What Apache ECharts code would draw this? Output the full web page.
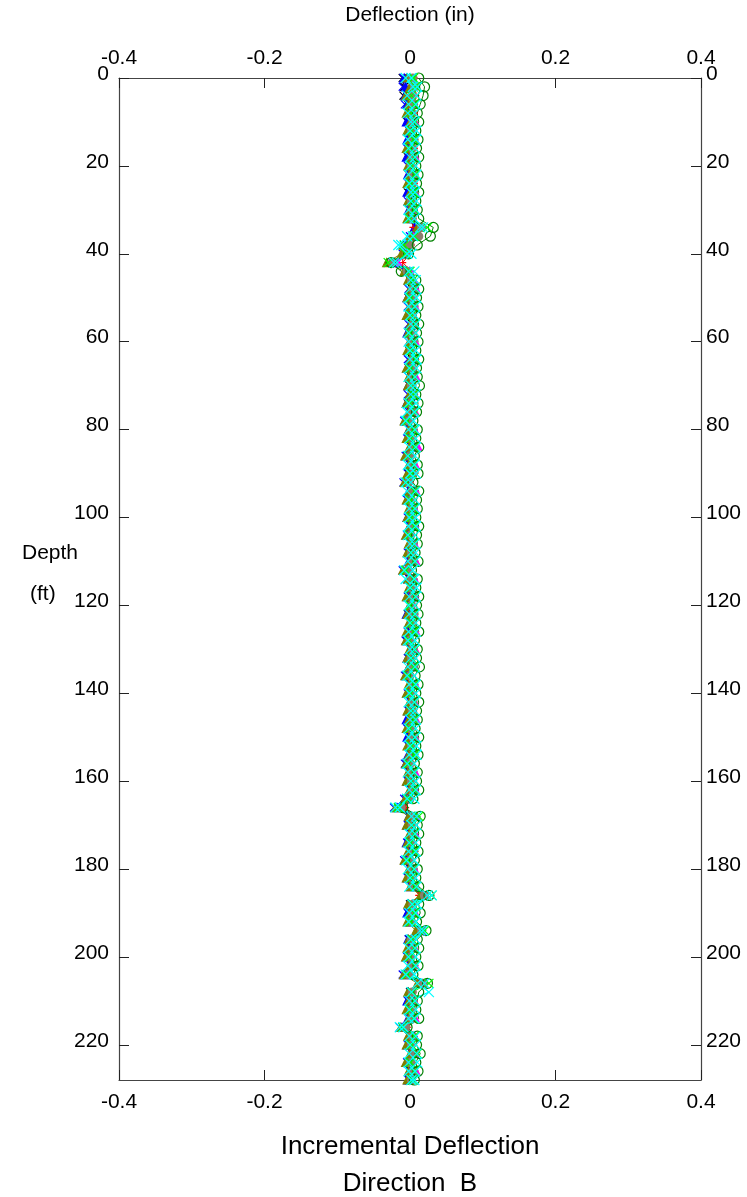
<!DOCTYPE html>
<html><head><meta charset="utf-8">
<script src="https://cdn.jsdelivr.net/npm/echarts@6/dist/echarts.min.js"></script>
<style>html,body{margin:0;padding:0;background:#fff}#c{width:747px;height:1197px}</style>
</head><body><div id="c"></div>
<script>
const depths = [0,2,4,6,8,10,12,14,16,18,20,22,24,26,28,30,32,34,36,38,40,42,44,46,48,50,52,54,56,58,60,62,64,66,68,70,72,74,76,78,80,82,84,86,88,90,92,94,96,98,100,102,104,106,108,110,112,114,116,118,120,122,124,126,128,130,132,134,136,138,140,142,144,146,148,150,152,154,156,158,160,162,164,166,168,170,172,174,176,178,180,182,184,186,188,190,192,194,196,198,200,202,204,206,208,210,212,214,216,218,220,222,224,226,228];
const xTicks = ['-0.4','-0.2','0','0.2','0.4'];
const yTicks = [0,20,40,60,80,100,120,140,160,180,200,220];

const readBlack = [-0.010,-0.008,-0.009,-0.003,-0.001,-0.004,0.002,-0.002,0.001,-0.003,
0.000,-0.002,0.002,-0.003,0.001,-0.001,0.003,0.008,0.004,-0.004,
-0.006,-0.020,-0.002,0.000,0.003,-0.002,0.002,-0.001,0.003,-0.002,
0.002,-0.001,0.003,-0.002,0.002,-0.001,0.003,-0.003,0.002,-0.006,
0.001,-0.002,0.002,-0.004,0.001,-0.002,-0.006,0.002,-0.003,0.001,
-0.002,0.002,-0.003,0.001,-0.001,0.002,-0.008,0.000,0.002,-0.002,
0.001,-0.003,0.000,0.002,-0.004,0.001,-0.002,0.002,-0.005,0.001,
-0.002,0.002,-0.001,0.001,-0.003,0.002,-0.001,0.001,-0.005,0.000,
-0.002,0.002,-0.005,-0.016,0.000,-0.002,0.002,-0.003,0.001,-0.005,
0.001,-0.002,0.003,0.018,0.000,-0.002,0.001,0.014,-0.001,0.001,
-0.003,0.002,-0.006,0.016,0.000,-0.002,0.002,-0.001,-0.010,0.001,
-0.002,0.004,-0.003,0.001,-0.001];
const readBlue = [-0.008,-0.006,-0.007,-0.004,-0.002,-0.005,0.001,-0.004,0.000,-0.005,
-0.001,-0.003,0.001,-0.004,0.000,-0.002,0.002,0.006,0.002,-0.006,
-0.008,-0.022,-0.004,-0.002,0.000,-0.004,0.001,-0.003,0.000,-0.004,
0.001,-0.003,0.000,-0.004,0.002,-0.003,0.000,-0.005,0.001,-0.007,
-0.002,-0.004,0.000,-0.006,-0.001,-0.003,-0.007,-0.002,-0.004,0.000,
-0.004,-0.001,-0.005,0.000,-0.003,-0.002,-0.009,-0.003,-0.001,-0.004,
0.000,-0.005,-0.001,-0.003,-0.005,0.000,-0.004,-0.002,-0.006,-0.001,
-0.004,0.000,-0.003,-0.005,-0.001,-0.004,0.000,-0.003,-0.006,-0.002,
-0.004,0.000,-0.006,-0.018,-0.002,-0.004,0.000,-0.005,-0.002,-0.007,
-0.001,-0.004,0.001,0.016,-0.002,-0.004,0.000,0.012,-0.003,-0.001,
-0.005,0.001,-0.008,0.014,-0.002,-0.004,0.000,-0.003,-0.011,-0.002,
-0.004,0.002,-0.005,-0.001,-0.003];
const readNavy = [-0.009,-0.010,-0.004,-0.007,0.000,-0.003,-0.001,0.002,-0.004,0.001,
-0.003,0.002,-0.002,0.001,-0.003,0.002,-0.001,0.010,0.000,-0.008,
-0.010,-0.024,-0.006,0.001,-0.002,0.002,-0.003,0.001,-0.002,0.002,
-0.002,0.001,-0.003,0.002,-0.002,0.001,-0.003,0.002,-0.001,-0.008,
0.000,-0.004,0.002,-0.006,0.000,-0.003,-0.009,0.001,-0.004,0.002,
-0.003,0.000,-0.004,0.002,-0.003,0.000,-0.010,-0.001,0.001,-0.003,
0.002,-0.002,0.001,-0.003,-0.006,0.002,-0.003,0.001,-0.007,0.000,
-0.003,0.001,-0.002,0.002,-0.004,0.001,-0.002,0.002,-0.007,-0.001,
-0.003,0.001,-0.008,-0.022,0.001,-0.003,0.001,-0.004,0.000,-0.008,
0.000,-0.003,0.002,0.020,0.001,-0.003,0.000,0.016,-0.002,0.000,
-0.004,0.001,-0.010,0.018,0.001,-0.003,0.001,-0.002,-0.014,0.000,
-0.003,0.003,-0.004,0.000,-0.002];
const readRed = [0.006,0.004,0.008,0.003,0.006,0.002,0.005,0.003,0.006,0.002,
0.005,0.003,0.006,0.002,0.005,0.003,0.004,0.004,0.003,0.002,
0.000,-0.010,0.002,0.004,0.006,0.003,0.005,0.004,0.006,0.002,
0.005,0.003,0.006,0.002,0.005,0.004,0.006,0.002,0.004,0.000,
0.005,0.003,0.006,0.001,0.004,0.005,0.000,0.006,0.003,0.004,
0.003,0.006,0.002,0.005,0.003,0.004,-0.001,0.005,0.003,0.006,
0.002,0.005,0.004,0.006,0.001,0.005,0.003,0.006,0.001,0.005,
0.003,0.005,0.004,0.006,0.002,0.005,0.003,0.006,0.001,0.004,
0.003,0.006,0.001,-0.006,0.007,0.004,0.005,0.003,0.006,0.001,
0.004,0.003,0.006,0.012,0.004,0.005,0.002,0.010,0.003,0.005,
0.002,0.006,0.000,0.012,0.004,0.005,0.003,0.004,-0.003,0.005,
0.003,0.006,0.002,0.004,0.003];
const readMagenta = [0.003,0.007,0.001,0.006,0.002,0.008,0.001,0.007,0.002,0.008,
0.001,0.007,0.002,0.008,0.001,0.006,0.003,0.012,0.005,-0.004,
-0.004,-0.016,0.001,0.006,0.009,0.002,0.008,0.001,0.007,0.002,
0.008,0.001,0.007,0.003,0.009,0.001,0.007,0.002,0.008,-0.002,
0.007,0.002,0.012,0.000,0.008,0.002,-0.003,0.009,0.002,0.007,
0.001,0.008,0.000,0.007,0.002,0.009,-0.004,0.007,0.002,0.008,
0.001,0.007,0.002,0.009,0.000,0.008,0.002,0.007,-0.001,0.008,
0.002,0.007,0.001,0.009,0.001,0.008,0.002,0.007,0.000,0.008,
0.002,0.008,0.000,-0.012,0.010,0.002,0.008,0.001,0.007,-0.002,
0.007,0.001,0.008,0.020,0.003,0.008,0.001,0.016,0.002,0.007,
0.001,0.008,-0.003,0.018,0.002,0.007,0.001,0.008,-0.007,0.007,
0.001,0.008,0.002,0.009,0.002];
const readOlive = [-0.004,0.000,-0.006,-0.002,-0.005,0.000,-0.004,-0.001,-0.005,0.000,
-0.003,-0.001,-0.004,0.000,-0.003,-0.001,-0.004,0.010,0.000,-0.010,
-0.012,-0.032,-0.008,-0.003,0.000,-0.004,-0.001,-0.005,0.000,-0.003,
-0.001,-0.004,0.000,-0.005,-0.002,-0.003,-0.001,-0.005,-0.002,-0.008,
-0.002,-0.005,-0.001,-0.007,-0.002,-0.004,-0.008,-0.001,-0.005,-0.002,
-0.004,-0.001,-0.006,-0.002,-0.004,-0.001,-0.010,-0.003,-0.002,-0.005,
-0.001,-0.004,-0.002,-0.005,-0.006,-0.001,-0.004,-0.002,-0.007,-0.002,
-0.005,-0.001,-0.004,-0.002,-0.005,-0.001,-0.004,-0.002,-0.006,-0.003,
-0.005,-0.001,-0.007,-0.020,-0.002,-0.005,-0.001,-0.004,-0.003,-0.008,
-0.002,-0.005,0.000,0.014,-0.003,-0.001,-0.004,0.008,-0.002,-0.004,
-0.006,-0.001,-0.009,0.010,-0.003,-0.002,-0.005,-0.002,-0.013,-0.003,
-0.005,0.000,-0.006,-0.002,-0.004];
const readGray = [0.004,0.006,0.003,0.005,0.003,0.004,0.002,0.005,0.003,0.004,
0.002,0.004,0.003,0.005,0.002,0.004,0.003,0.016,0.012,0.000,
-0.004,-0.024,-0.004,0.002,0.004,0.002,0.004,0.003,0.005,0.002,
0.004,0.002,0.005,0.003,0.004,0.002,0.005,0.001,0.004,-0.002,
0.004,0.002,0.005,0.000,0.003,0.004,-0.002,0.004,0.002,0.003,
0.002,0.004,0.001,0.003,0.002,0.004,-0.003,0.003,0.002,0.004,
0.002,0.004,0.003,0.005,0.000,0.004,0.002,0.005,0.000,0.004,
0.002,0.004,0.003,0.005,0.001,0.004,0.002,0.005,0.000,0.003,
0.002,0.004,0.000,-0.012,0.006,0.003,0.004,0.002,0.005,0.000,
0.003,0.002,0.005,0.020,0.004,0.004,0.002,0.016,0.002,0.004,
0.001,0.004,-0.002,0.018,0.003,0.004,0.002,0.003,-0.006,0.003,
0.002,0.006,0.001,0.004,0.002];
const readDarkGreen = [0.012,0.020,0.018,0.014,0.010,0.012,0.008,0.011,0.009,0.012,
0.008,0.011,0.009,0.012,0.008,0.010,0.012,0.032,0.028,0.010,
-0.002,-0.026,-0.012,0.008,0.012,0.009,0.011,0.008,0.012,0.009,
0.011,0.008,0.012,0.009,0.010,0.013,0.008,0.011,0.009,0.004,
0.010,0.008,0.012,0.006,0.010,0.011,0.004,0.012,0.009,0.010,
0.008,0.012,0.009,0.010,0.007,0.011,0.002,0.010,0.008,0.012,
0.009,0.011,0.008,0.012,0.006,0.010,0.009,0.013,0.007,0.011,
0.008,0.012,0.009,0.010,0.007,0.012,0.008,0.011,0.006,0.010,
0.009,0.012,0.004,-0.010,0.014,0.010,0.012,0.008,0.011,0.006,
0.010,0.008,0.012,0.026,0.012,0.014,0.009,0.022,0.010,0.012,
0.008,0.011,0.004,0.024,0.012,0.010,0.008,0.012,-0.004,0.010,
0.009,0.014,0.008,0.011,0.006];
const readGreen = [0.005,0.008,0.002,0.006,0.001,0.007,0.002,0.005,0.000,0.006,
0.002,0.007,0.001,0.005,0.003,0.006,0.000,0.024,0.006,-0.008,
-0.006,-0.030,0.000,0.004,0.007,0.001,0.006,0.002,0.007,0.000,
0.005,0.002,0.007,0.001,0.006,0.002,0.005,0.000,0.007,-0.004,
0.005,0.001,0.006,-0.002,0.005,0.002,-0.005,0.006,0.001,0.005,
0.002,0.006,-0.001,0.005,0.002,0.006,-0.006,0.005,0.001,0.007,
0.000,0.006,0.002,0.005,-0.001,0.007,0.002,0.005,-0.002,0.006,
0.001,0.006,0.002,0.005,0.000,0.007,0.002,0.006,-0.002,0.005,
0.002,0.006,-0.002,-0.016,0.012,0.003,0.006,0.001,0.006,-0.003,
0.005,0.002,0.007,0.030,0.004,0.006,0.001,0.020,0.003,0.006,
0.000,0.007,-0.004,0.026,0.003,0.006,0.001,0.005,-0.010,0.006,
0.002,0.010,0.001,0.006,0.003];
const readCyan = [0.002,0.010,-0.004,0.008,-0.003,0.006,0.000,0.008,-0.002,0.007,
0.000,0.009,-0.001,0.007,0.001,0.008,-0.002,0.018,0.004,-0.016,
-0.004,-0.018,0.006,0.001,0.008,-0.001,0.007,0.000,0.008,-0.002,
0.006,0.000,0.009,-0.001,0.007,0.001,0.008,-0.002,0.006,-0.006,
0.007,-0.001,0.008,-0.003,0.006,0.000,-0.006,0.008,-0.002,0.007,
-0.001,0.008,-0.003,0.006,0.001,0.007,-0.008,0.006,0.000,0.008,
-0.002,0.007,0.000,0.008,-0.003,0.006,0.001,0.007,-0.004,0.008,
-0.001,0.006,0.001,0.008,-0.002,0.007,0.000,0.009,-0.004,0.006,
0.001,0.008,-0.004,-0.014,0.009,0.002,0.007,-0.001,0.008,-0.005,
0.006,0.000,0.009,0.024,0.003,0.008,-0.002,0.018,0.001,0.007,
-0.002,0.008,-0.006,0.020,0.002,0.007,-0.001,0.006,-0.009,0.008,
0.000,0.009,-0.002,0.007,0.002];
const readCyan2 = [-0.006,0.004,0.009,-0.002,0.006,0.001,0.009,-0.003,0.007,0.000,
0.008,-0.002,0.007,0.001,0.009,-0.002,0.006,0.014,-0.004,-0.012,
0.002,-0.022,-0.002,0.008,0.000,0.009,-0.002,0.007,0.001,0.008,
-0.002,0.008,0.000,0.009,-0.002,0.007,0.001,0.008,-0.004,0.005,
-0.002,0.008,-0.001,0.007,-0.003,0.008,0.001,-0.004,0.007,-0.001,
0.008,-0.002,0.007,0.000,0.008,-0.003,0.004,-0.006,0.009,-0.001,
0.007,-0.001,0.008,-0.002,0.007,0.000,0.008,-0.003,0.006,-0.001,
0.008,-0.002,0.007,0.000,0.008,-0.002,0.009,-0.001,0.006,-0.003,
0.008,-0.001,0.006,-0.020,0.002,0.009,-0.001,0.008,-0.002,0.006,
-0.003,0.008,-0.001,0.030,0.010,-0.001,0.008,0.014,0.008,-0.002,
0.008,-0.003,0.006,0.010,0.026,-0.001,0.008,-0.002,-0.014,-0.001,
0.008,-0.001,0.010,-0.002,0.006];

const FONT = "'Liberation Sans', Arial, sans-serif";
const X_PATH = 'path://M0,0L10,10M10,0L0,10';
const PLUS_PATH = 'path://M5,0L5,10M0,5L10,5';

function mk(name, vals, color, symbol, size, fill, lw) {
  return {
    name, type: 'line', xAxisIndex: 0, yAxisIndex: 0,
    data: vals.map((v, i) => [v, depths[i]]),
    symbol, symbolSize: size, showSymbol: true,
    lineStyle: { color, width: lw || 1 },
    itemStyle: { color: fill ? color : 'rgba(0,0,0,0)', borderColor: color, borderWidth: 1.2 },
    emphasis: { disabled: true }, animation: false, z: 3
  };
}

const series = [
  mk('R1', readBlack, '#000000', X_PATH, 8, false),
  mk('R2', readBlue, '#0000ff', 'triangle', 8, true),
  mk('R3', readNavy, '#0000ff', X_PATH, 8, false),
  mk('R4', readRed, '#ff0000', PLUS_PATH, 7, false),
  mk('R5', readMagenta, '#ff00ff', 'triangle', 6, true),
  mk('R6', readOlive, '#808000', 'triangle', 8, true),
  mk('R7', readGray, '#8c7f6e', 'circle', 8, true),
  mk('R8', readDarkGreen, '#008000', 'circle', 10, false),
  mk('R9', readGreen, '#00ff00', X_PATH, 9, false),
  mk('R10', readCyan2, '#00ffff', X_PATH, 10, false, 1.2),
  mk('R11', readCyan, '#00ffff', X_PATH, 10, false, 1.3)
];

const axisLineStyle = { color: '#444', width: 1.2 };
const tickStyle = { show: true, inside: true, length: 10, lineStyle: { color: '#222', width: 1 } };
const xLabel = { fontFamily: FONT, fontSize: 21, color: '#000',
  formatter: v => { const s = xTicks.find(t => Math.abs(parseFloat(t) - v) < 1e-9); return s === undefined ? '' : s; } };
const yLabel = { showMaxLabel: false, fontFamily: FONT, fontSize: 21, color: '#000',
  verticalAlign: 'bottom', lineHeight: 8,
  formatter: v => yTicks.includes(v) ? String(v) : '' };

const chart = echarts.init(document.getElementById('c'), null, { renderer: 'canvas' });
chart.setOption({
  backgroundColor: '#fff',
  animation: false,
  grid: { left: 119, right: 46, top: 76, bottom: 117, containLabel: false },
  xAxis: [
    { type: 'value', position: 'bottom', min: -0.4, max: 0.4, interval: 0.2,
      axisLine: { show: true, onZero: false, lineStyle: axisLineStyle }, axisTick: tickStyle,
      splitLine: { show: false }, axisLabel: Object.assign({ margin: 12 }, xLabel) },
    { type: 'value', position: 'top', min: -0.4, max: 0.4, interval: 0.2,
      axisLine: { show: true, onZero: false, lineStyle: axisLineStyle }, axisTick: tickStyle,
      splitLine: { show: false }, axisLabel: Object.assign({ margin: 9 }, xLabel),
      name: 'Deflection (in)', nameLocation: 'middle', nameGap: 52,
      nameTextStyle: { fontFamily: FONT, fontSize: 21, color: '#000' } }
  ],
  yAxis: [
    { type: 'value', position: 'left', inverse: true, min: 0, max: 228, interval: 20,
      axisLine: { show: true, onZero: false, lineStyle: axisLineStyle }, axisTick: tickStyle,
      splitLine: { show: false }, axisLabel: Object.assign({ margin: 10 }, yLabel) },
    { type: 'value', position: 'right', inverse: true, min: 0, max: 228, interval: 20,
      axisLine: { show: true, onZero: false, lineStyle: axisLineStyle }, axisTick: tickStyle,
      splitLine: { show: false }, axisLabel: Object.assign({ margin: 5 }, yLabel) }
  ],
  graphic: [
    { type: 'text', left: 22, top: 543, style: { text: 'Depth', font: '21px ' + FONT, fill: '#000' } },
    { type: 'text', left: 30, top: 584, style: { text: '(ft)', font: '21px ' + FONT, fill: '#000' } },
    { type: 'text', x: 410, y: 1147, style: { text: 'Incremental Deflection', font: '26px ' + FONT, fill: '#000', textAlign: 'center', textVerticalAlign: 'middle' } },
    { type: 'text', x: 410, y: 1184, style: { text: 'Direction  B', font: '26px ' + FONT, fill: '#000', textAlign: 'center', textVerticalAlign: 'middle' } }
  ],
  series
});
</script>
</body></html>
